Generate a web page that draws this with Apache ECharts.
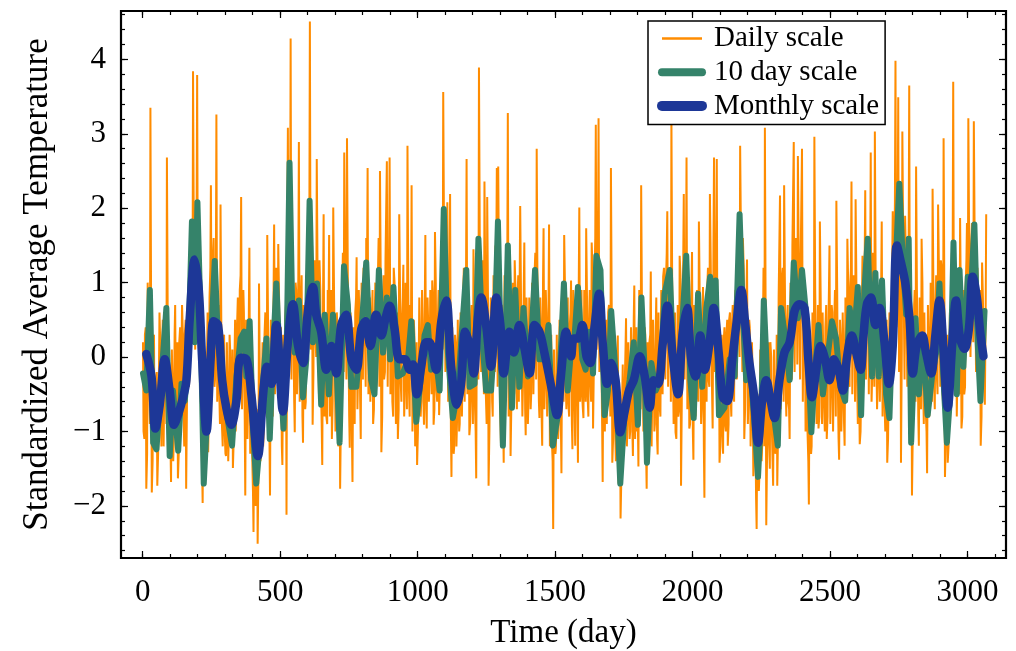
<!DOCTYPE html>
<html>
<head>
<meta charset="utf-8">
<script src="https://cdn.jsdelivr.net/npm/echarts@6/dist/echarts.min.js"></script>
<style>
html,body{margin:0;padding:0;background:#fff;}
#chart{width:1016px;height:651px;}
</style>
</head>
<body>
<div id="chart"></div>
<script>
// ---------- DATA ----------
// Daily series, part A: one value every 5 days starting at day 3 (spikes and dips)
const dailyStartDayA = 3;
const dailyStepDays = 5;
const dailyValuesA = [
  -1.0, 0.3, -1.77, 1.0, -0.3, 3.35, -1.82, 0.2, -1.2, -0.4, -1.73, -0.6, 0.3, -1.2, 0.5, -0.5, 0.6, 2.68, -0.8, -0.2,
  -1.68, -0.3, -1.1, 0.7, -0.9, -1.63, 0.2, -1.0, 0.7, -0.7, 0.3, -1.77, 0.5, -0.4, 1.5, 0.4, 3.84, 0.6, 2.1, 3.79,
  0.5, 1.4, -0.8, -1.96, -0.5, -1.2, -0.2, -1.28, 0.8, 2.31, 0.2, 1.6, -0.3, 3.26, 0.3, -0.4, 2.05, -0.9, 0.2, -1.0,
  -1.33, -0.3, -1.1, 0.1, -0.7, -1.49, -0.2, -1.0, 0.4, -0.5, 0.9, 2.15, -0.3, 0.6, -1.86, 0.3, -0.7, 1.47, -0.4, -1.3,
  -2.35, -0.9, -1.6, -2.51, 0.99, -1.4, -0.6, -1.2, 0.3, -0.5, 1.64, -0.4, -1.86, 0.1, -0.8, 1.78, 0.2, 0.9, 1.52, -0.3,
  0.4, -1.45, -0.6, 0.5, -2.12, 3.08, 1.0, 4.28, 1.6, 0.4, -1.01, 0.9, -0.2, 2.89, 0.3, 1.1, -1.15, 0.2, -0.6, 0.8,
  1.5, 4.51, 0.9, -0.91, 1.2, 0.3, 2.66, 0.5, 1.3, -0.3, -1.45, 1.92, 0.2, -0.8, 0.9, 1.64, -0.4, -1.1, 2.01, 0.3,
  -0.7, 0.4, -1.0, -1.77, 0.5, 1.4, 2.75, 0.8, 2.94, 0.3, -1.22, 0.2, -1.68, -0.4, 0.6, 1.34, -0.3, 0.5, -1.1, 0.6,
  1.2, 0.4, 1.6, 2.54, 0.2, -0.6, 0.5, -0.9, 0.3, -0.5, 1.0, 1.6, 2.5, -1.28, 0.5, -0.3, 1.3, 2.63, 0.4, 2.68,
  0.3, -0.6, 1.2, 0.1, -0.6, -1.1, 1.92, -0.3, 0.5, 1.24, -0.5, 0.6, 2.84, -0.4, 0.7, 2.31, -0.5, 0.3, -0.9, -1.45,
  -0.4, 0.3, -0.6, 0.5, -0.91, 1.64, -0.96, 0.5, -0.3, 0.6, 1.03, -0.91, 1.68, -0.4, 0.4, -0.78, 0.6, 1.5, 3.56, 1.2,
  0.5, 2.08, -0.4, 2.19, -1.61, -0.8, -1.2, 0.2, -0.9, -0.2, -0.9, 0.4, -0.3, 1.2, 0.1, 2.66, 0.2, -1.05, 0.4, -0.5,
  1.45, -0.6, -1.63, 0.8, 3.89, 0.9, -0.2, 1.0, 2.36, -0.5, 2.15, -1.73, -0.3, 0.4, -0.8, 0.6, 1.5, 2.54, 2.56, 0.2,
  -1.15, -0.2, -1.42, 0.6, 1.5, 3.28, 0.4, -1.33, -0.3, 0.7, 1.3, -0.2, 0.8, -0.6, 2.03, 0.1, -0.4, 1.54, -1.05, 0.3,
  -0.6, 0.57, -0.5, 0.9, 0.1, 1.4, 2.8, 0.4, -0.82, 0.5, -1.19, 1.73, -0.4, 0.6, -0.2, 1.78, -0.5, -1.1, -2.31, -0.6,
  -1.2, -0.3, -0.9, 0.3, -1.56, 0.6, 1.64, -0.3, 0.7, -0.6, 0.4, 1.03, -1.24, 0.5, -1.19, 0.7, -1.42, 2.01, 0.3, -0.5,
  -0.82, 0.6, 1.73, -0.5, 0.4, -0.3, 1.54, -0.96, 1.0, 3.12, 0.8, 3.21, 1.2, 0.2, -1.68, -0.4, 0.3, -0.9, 0.6, -0.2,
  2.54, -1.42, -0.3, -0.9, -0.1, 0.29, -1.5, -2.17, -0.8, -1.3, -0.4, 0.52, -0.9, -0.2, -1.0, 0.1, -1.33, 0.96, -0.5, -1.0,
  -1.47, 0.8, 2.31, 0.2, -0.6, 0.3, -1.77, -0.8, 0.2, 1.15, -0.6, 0.1, -0.9, 0.8, -1.31, -0.2, -0.8, 0.5, 1.08, 0.2,
  1.0, 1.96, 0.4, 1.2, 3.26, 0.1, -0.5, -1.01, -0.2, -0.8, 1.36, -1.73, 0.6, 2.19, 0.9, 2.68, 0.3, -0.96, 0.4, 1.41,
  -1.38, -0.3, 0.6, -0.5, 1.82, 0.3, -0.7, 0.94, -1.89, 0.2, 0.9, -0.3, 2.19, 0.5, -0.96, 2.68, 0.8, 2.66, -0.4, -1.42,
  -0.4, -1.0, 0.2, -0.9, 0.3, -1.19, 0.5, -0.5, 0.4, -0.3, 0.7, -0.2, 1.4, 0.6, 2.84, 0.9, 1.6, -1.1, 0.2, 1.31,
  -0.6, 0.4, -0.9, -0.2, -1.3, -0.7, -2.31, -1.1, -1.6, -0.4, -1.2, 1.2, 3.08, -2.26, -0.5, -1.1, 0.2, -0.9, -1.73, -0.6,
  -1.2, -1.73, 0.8, 2.17, 0.5, 1.2, 2.31, -0.3, 0.4, -0.6, -1.1, 0.6, 1.5, 2.89, 0.7, 1.4, 2.7, 0.5, 1.3, 2.8,
  0.2, 1.0, -0.4, -1.0, -1.98, -0.6, -1.2, 0.5, 2.96, 0.3, -0.5, -0.96, 1.82, -0.3, 0.6, -0.6, 0.4, -1.1, 0.2, 1.5,
  -0.5, 0.6, -0.4, 0.9, 2.1, -0.3, -1.38, 0.3, -0.7, 0.2, -1.19, 0.5, 1.59, -0.2, 0.9, 2.36, 0.3, 1.0, 2.12, -0.2,
  0.4, -1.17, -0.5, 1.36, 0.3, 2.24, 0.8, 1.5, 0.4, 2.75, -0.3, 1.1, 3.03, 0.2, -0.4, 0.8, -0.2, 1.82, 0.1, -0.6,
  -0.2, -1.42, -0.5, 0.4, -0.3, 1.96, 0.9, 3.98, 1.4, 3.49, 0.6, -1.42, 3.03, 0.8, 1.9, 0.5, 1.2, 3.65, 0.3, -1.86,
  -0.3, 0.9, 2.56, 0.2, -1.19, 0.4, 1.59, -0.2, 0.6, -0.7, -1.56, 0.3, -0.5, 0.8, 2.26, -0.3, 0.6, -0.2, 2.05, 0.7,
  1.3, -0.4, 2.94, -1.61, -0.6, -1.42, -0.3, 0.6, 1.4, 3.7, 0.5, 1.2, -0.3, 0.6, 1.87, -0.96, 0.4, -0.5, 0.9, 1.8,
  3.21, 0.6, 1.5, 0.9, 3.17, 1.2, 0.3, 0.9, -0.5, -1.19, 1.27, 0.2, -0.64, 1.92
];
// Daily series, part B: the dense band in between, one value every 5 days starting at day 1
const dailyStartDayB = 1;
const dailyValuesB = [
  0.2, -1.1, 0.4, -1.3, 0.5, -0.9, 0.1, -1.4, 0.3, -1.0, -0.2, -1.3, 0.6, -0.8, 0.2, -1.2, 0.3, -0.9, 0.5, -1.1,
  -1.2, 0.1, -1.4, 0.3, -0.9, 0.2, -1.3, 0.4, -1.0, 0.3, -1.2, 0.5, -0.6, 0.9, -0.2, 1.2, 0.3, 1.5, 0.1, 1.9,
  0.2, 1.1, -0.5, -1.5, 0.1, -1.4, -0.3, 0.6, -0.6, 1.2, -0.2, 1.4, -0.4, 1.0, -0.6, 0.7, -0.9, 0.4, -1.2, 0.3,
  -1.3, 0.2, -1.4, 0.3, -1.2, 0.1, -1.1, 0.5, -0.6, 0.8, -0.4, 1.1, -0.7, 0.9, -0.8, 0.5, -1.1, 0.6, -1.3, -0.2,
  -1.8, -0.5, -2.0, -0.7, -1.5, -0.3, -1.3, 0.2, -0.9, 0.6, -0.8, 0.4, -1.1, 0.5, -0.6, 0.9, -0.5, 1.2, -0.1, 0.8,
  -0.4, -1.2, 0.3, -1.0, 0.7, 1.8, -0.1, 1.3, -0.3, 1.2, -0.6, 1.0, -0.5, 1.1, -0.6, 0.8, -0.8, 0.7, -0.7, 1.1,
  0.2, 1.6, 0.1, 1.5, -0.2, 1.3, 0.0, 1.1, -0.5, 0.9, -0.9, 0.8, -0.8, 0.6, -0.9, 0.7, -0.8, 0.9, -0.6, 0.8,
  -1.0, 0.6, -1.2, 0.3, -0.8, 0.9, -0.2, 1.3, -0.3, 1.1, -0.8, 0.6, -1.1, 0.4, -0.9, 0.8, -0.7, 0.9, -0.6, 1.0,
  -0.3, 1.1, -0.4, 1.2, -0.5, 0.8, -0.6, 0.9, -0.7, 1.0, -0.3, 1.2, -0.4, 0.9, -0.8, 1.1, -0.2, 1.3, -0.4, 1.0,
  -0.5, 0.9, -0.8, 1.0, -0.9, 0.6, -0.7, 0.9, -0.6, 0.8, -0.8, 1.0, -0.7, 0.9, -0.8, 0.6, -1.0, 0.5, -1.2, 0.2,
  -1.0, 0.8, -0.8, 0.9, -0.6, 0.7, -0.7, 0.8, -0.6, 0.9, -0.5, 0.8, -0.7, 1.0, -0.6, 0.9, -0.3, 1.2, 0.1, 1.6,
  -0.2, 1.1, -0.6, 0.9, -1.0, 0.4, -1.3, 0.3, -1.2, 0.5, -1.0, 0.6, -0.8, 0.9, -0.6, 1.1, -0.5, 0.8, -0.9, 0.7,
  -0.9, 0.6, -1.0, 1.3, -0.3, 1.6, -0.2, 1.3, -0.5, 1.0, -0.9, 0.7, -1.0, 0.8, -0.6, 1.1, -0.2, 1.4, -0.4, 1.0,
  -0.8, 0.7, -0.9, 1.1, -0.3, 1.2, -0.8, 0.9, -0.6, 1.0, -0.5, 0.9, -0.7, 1.1, -0.6, 0.8, -0.8, 0.9, -0.7, 0.8,
  -0.9, 0.8, -0.7, 1.0, -0.5, 1.2, -0.3, 0.9, -0.6, 0.8, -0.8, 1.0, -0.7, 0.9, -0.8, 0.7, -1.2, 0.3, -1.4, 0.1,
  -1.3, 0.3, -1.1, 0.5, -0.9, 0.7, -0.6, 0.9, -0.7, 0.8, -0.8, 0.6, -0.9, 0.9, -0.7, 0.8, -0.6, 1.0, -0.6, 0.9,
  -0.7, 0.9, -0.6, 0.8, -0.8, 0.9, -0.6, 1.2, -0.1, 1.6, 0.1, 1.5, -0.2, 1.0, -0.9, 0.6, -1.0, 0.5, -0.9, 0.7,
  -0.8, 0.6, -1.1, 0.3, -1.4, -0.2, -1.7, -0.5, -1.6, -0.1, -1.3, 0.1, -1.2, 0.2, -1.1, 0.4, -1.0, 0.5, -1.1, 0.4,
  -0.9, 0.9, -0.7, 0.6, -1.0, 0.4, -1.3, 0.2, -1.4, 0.3, -1.2, 0.5, -1.0, 0.4, -1.1, 0.6, -0.7, 0.9, -0.5, 1.2,
  -0.3, 1.4, -0.4, 1.1, -0.6, 0.8, -0.9, 0.6, -1.1, 0.7, -0.7, 1.1, -0.5, 1.3, -0.3, 1.2, -0.7, 0.8, -0.9, 0.9,
  -1.0, 0.7, -0.8, 0.9, -0.6, 0.8, -0.9, 0.6, -1.2, 0.7, -0.6, 1.2, -0.4, 1.3, -0.5, 1.5, -0.2, 1.4, -0.8, 0.4,
  -1.2, 0.3, -1.3, 0.4, -1.0, 0.5, -0.9, 0.6, -0.8, 0.7, -0.6, 0.9, -0.3, 1.3, 0.0, 1.6, -0.2, 1.2, -0.7, 0.8,
  -0.9, 0.5, -1.2, 0.2, -1.6, -0.3, -1.9, -0.5, -1.8, 0.1, -1.4, 0.4, -1.2, 0.3, -1.3, 0.2, -1.5, 0.0, -1.4, 0.1,
  -1.3, 0.3, -1.0, 0.8, -0.7, 1.1, -0.6, 0.9, -0.8, 0.7, -0.7, 1.0, -0.3, 1.5, -0.2, 1.6, -0.1, 1.4, -0.3, 1.3,
  -0.6, 0.8, -1.0, 0.4, -1.4, 0.2, -1.3, 0.6, -0.8, 0.9, -0.9, 0.7, -0.8, 0.8, -0.9, 0.6, -1.0, 0.7, -0.8, 0.9,
  -0.9, 0.7, -1.0, 0.6, -0.8, 0.9, -1.1, 0.5, -1.0, 0.6, -0.9, 0.8, -0.6, 1.0, -0.4, 1.2, -0.5, 1.1, -0.6, 0.9,
  -0.9, 0.4, -1.0, 0.8, -0.4, 1.3, -0.3, 1.2, -0.5, 1.1, -0.6, 1.4, -0.4, 1.0, -0.7, 0.9, -0.6, 1.0, -0.8, 0.6,
  -1.0, 0.5, -1.1, 0.6, -0.7, 1.2, 0.2, 2.1, 0.4, 1.8, -0.2, 1.5, 0.1, 1.6, -0.3, 1.3, -0.4, 1.5, -0.8, 0.5,
  -1.0, 0.7, -0.6, 0.9, -0.8, 0.8, -0.7, 1.0, -0.9, 0.6, -1.0, 0.7, -0.8, 1.0, -0.6, 0.9, -0.7, 1.1, -0.5, 1.2,
  -0.4, 1.2, -0.6, 0.7, -1.1, 0.3, -1.2, 0.6, -0.6, 1.3, -0.3, 1.1, -0.8, 0.9, -0.5, 0.7, -0.8, 0.9, -0.4, 1.3,
  0.1, 1.5, 0.0, 1.8, 0.2, 1.6, -0.2, 1.2, -0.5, 0.9, -0.8, 0.8, -0.3, 0.6
];

// 10 day scale series (days, values)
const tenDayDays = [
  1, 13, 26, 38, 50, 62, 86, 98, 110, 129, 141, 153, 165, 179, 189, 199, 211, 222, 232, 247, 262, 274, 289, 304, 325, 341, 356, 369, 377, 389,
  401, 413, 425, 438, 450, 462, 474, 486, 500, 512, 524, 534, 544, 553, 568, 583, 595, 607, 619, 634, 649, 662, 677, 692, 706, 716, 732, 746, 759, 777,
  795, 813, 831, 843, 859, 874, 888, 900, 912, 928, 946, 965, 977, 995, 1013, 1025, 1037, 1049, 1061, 1080, 1095, 1110, 1128, 1146, 1161, 1177, 1189, 1207, 1221, 1237,
  1249, 1267, 1280, 1292, 1310, 1328, 1343, 1355, 1370, 1385, 1401, 1415, 1427, 1443, 1459, 1476, 1492, 1510, 1532, 1546, 1558, 1571, 1583, 1599, 1611, 1626, 1638, 1650, 1665, 1680,
  1692, 1704, 1720, 1737, 1753, 1771, 1786, 1801, 1814, 1826, 1834, 1850, 1866, 1883, 1898, 1917, 1931, 1947, 1963, 1977, 1992, 2004, 2020, 2035, 2050, 2064, 2074, 2084, 2096, 2116,
  2135, 2153, 2171, 2183, 2195, 2207, 2223, 2238, 2250, 2259, 2274, 2292, 2310, 2322, 2337, 2353, 2368, 2383, 2398, 2413, 2432, 2444, 2458, 2474, 2490, 2507, 2522, 2538, 2555, 2571,
  2587, 2601, 2613, 2625, 2637, 2653, 2665, 2677, 2689, 2704, 2716, 2728, 2740, 2752, 2765, 2777, 2786, 2795, 2811, 2823, 2837, 2855, 2871, 2886, 2898, 2912, 2925, 2937, 2949, 2961,
  2971, 2985, 3001, 3013, 3025, 3037, 3047, 3062
];
const tenDayValues = [
  -0.22, -0.45, 0.9, -1.15, -1.24, -0.59, 0.66, -1.33, -0.45, -1.26, -0.36, -0.59, -0.03, 1.82, 0.2, 2.08, 0.43, -1.7, -0.96, 0.1, 1.29, 0.2, -0.26, -0.73, -1.19, -0.26, 0.25, 0.34, -0.26, 0.48,
  -0.96, -1.7, -1.19, -0.31, 0.25, -1.1, 0.06, 0.99, -0.2, -0.96, 0.2, 2.61, 0.6, 0.06, 0.76, -0.54, -0.03, 2.1, 0.2, 0.99, -0.64, 0.57, -0.5, 0.57, -0.22, -1.15, 1.22, 0.71, -0.4, -0.4,
  0.34, 1.27, -0.31, -0.5, 1.17, 0.06, 0.8, -0.03, 0.94, -0.26, -0.22, -0.03, 0.48, -0.87, -0.22, 0.29, 0.43, -0.17, 0.15, -0.45, 1.99, 0.06, -0.82, -0.45, 0.34, 1.17, -0.4, -0.36, 1.59, 0.15,
  -0.45, -0.45, 0.3, 1.82, -1.19, 1.5, -0.68, 0.9, -0.4, 0.66, -0.26, 0.34, 1.17, -0.03, -0.03, 0.43, -1.19, -0.78, 0.99, -0.45, 0.1, 0.29, 0.94, -0.03, -0.17, 0.34, -0.22, 1.36, 1.17, -0.78,
  -0.45, 0.62, -0.22, -1.7, -0.73, -0.31, 0.2, -0.91, 0.8, -0.22, -1.42, -0.08, -0.45, -0.31, 0.85, 1.17, -0.17, -0.5, 0.48, 1.36, -0.31, -0.82, 0.85, -0.4, 0.66, 1.08, 0.5, 1.03, -0.78, -0.68,
  -0.03, -0.26, 1.92, 0.57, -0.31, -0.03, -0.78, -1.61, -0.73, 0.76, -0.5, -0.68, -1.19, 0.66, 0.25, -0.31, 1.27, 0.52, 1.17, 0.57, -1.01, -0.26, 0.43, -0.5, -0.03, 0.48, 0.25, -0.4, -0.59, 0.66,
  0.25, 0.94, -0.78, 0.9, 1.59, -0.26, 1.13, -0.26, 1.03, -0.5, -0.82, 0.52, 1.36, 2.33, 1.27, 0.57, 1.59, -1.15, 0.52, -0.5, 0.29, -0.78, -0.26, 0.06, 0.99, -0.26, -1.15, -0.5, 1.54, -0.5,
  1.17, -0.13, 1.08, 0.9, 1.78, 0.2, -0.59, 0.62
];

// Monthly scale series (days, values)
const monthlyDays = [
  13, 32, 46, 62, 80, 98, 114, 129, 147, 159, 171, 189, 204, 216, 232, 247, 258, 274, 289, 304, 322, 341, 356, 377, 395, 419, 438, 452, 468, 486,
  510, 528, 546, 565, 583, 601, 619, 631, 649, 668, 686, 704, 722, 740, 759, 777, 795, 811, 828, 849, 868, 883, 898, 916, 934, 953, 971, 983, 997, 1013,
  1031, 1043, 1067, 1086, 1104, 1122, 1143, 1158, 1173, 1189, 1204, 1219, 1231, 1249, 1267, 1286, 1301, 1313, 1334, 1350, 1370, 1389, 1407, 1425, 1443, 1461, 1486, 1507, 1522, 1540,
  1558, 1568, 1583, 1599, 1614, 1628, 1644, 1660, 1674, 1689, 1704, 1720, 1737, 1753, 1769, 1786, 1808, 1826, 1844, 1858, 1874, 1892, 1908, 1929, 1947, 1963, 1980, 1995, 2011, 2028,
  2044, 2062, 2077, 2095, 2110, 2126, 2143, 2159, 2177, 2192, 2207, 2223, 2238, 2253, 2268, 2284, 2298, 2316, 2334, 2353, 2371, 2389, 2407, 2422, 2434, 2450, 2465, 2482, 2498, 2514,
  2531, 2547, 2562, 2579, 2595, 2611, 2622, 2634, 2649, 2665, 2680, 2698, 2714, 2728, 2743, 2758, 2774, 2789, 2801, 2815, 2835, 2849, 2868, 2883, 2898, 2912, 2928, 2944, 2958, 2973,
  2989, 3005, 3019, 3034, 3046, 3058
];
const monthlyValues = [
  0.04, -0.26, -0.96, -0.64, -0.03, -0.45, -0.91, -0.77, -0.54, -0.31, 0.52, 1.31, 0.9, -0.03, -1.0, -0.03, 0.48, 0.43, -0.31, -0.68, -0.91, -0.59, -0.01, -0.03, -0.5, -1.33, -0.5, -0.13, -0.36, 0.43,
  -0.73, 0.2, 0.71, 0.15, -0.08, 0.62, 0.94, 0.57, 0.34, -0.17, 0.15, -0.22, 0.43, 0.57, -0.03, -0.17, 0.38, 0.48, 0.15, 0.57, 0.29, 0.52, 0.69, 0.38, -0.03, -0.03, -0.17, -0.1, -0.5, -0.13,
  0.2, 0.2, -0.17, 0.48, 0.76, -0.13, -0.64, -0.36, 0.34, 0.15, -0.22, 0.52, 0.8, 0.43, -0.13, 0.8, 0.43, -0.22, 0.34, 0.06, 0.43, 0.11, -0.22, 0.43, 0.34, 0.06, -0.4, -0.78, -0.22, 0.34,
  0.01, 0.25, 0.25, 0.43, 0.01, -0.08, 0.43, 0.85, 0.15, -0.36, -0.08, -0.31, -1.01, -0.73, -0.45, -0.31, 0.01, -0.26, -0.68, -0.31, -0.36, 0.2, 0.69, -0.03, -0.5, 0.29, 0.66, -0.03, -0.26, 0.29,
  -0.17, 0.2, 0.66, 0.06, -0.54, -0.59, -0.08, 0.43, 0.9, 0.43, -0.08, -0.5, -1.15, -0.59, -0.31, -0.59, -0.82, -0.31, 0.06, 0.2, 0.62, 0.71, 0.66, -0.08, -0.54, -0.17, 0.15, -0.03, -0.31, -0.03,
  -0.17, -0.45, 0.01, 0.29, 0.06, -0.17, 0.3, 0.71, 0.8, 0.43, 0.66, 0.2, -0.36, 0.15, 1.5, 1.27, 0.99, 0.52, -0.22, 0.15, 0.29, 0.06, -0.22, 0.29, 0.76, 0.15, -0.68, 0.15, 0.76, 0.25,
  0.11, 0.38, 1.08, 0.8, 0.34, 0.01
];

// Tick values
const xMajorTicks = [0, 500, 1000, 1500, 2000, 2500, 3000];
const yMajorTicks = [-2, -1, 0, 1, 2, 3, 4];
const seriesNames = ['Daily scale', '10 day scale', 'Monthly scale'];
const xTitle = 'Time (day)';
const yTitle = 'Standardized Average Temperature';

// ---------- CHART ----------
const xMinorTicks = [];
for (let v = 0; v <= 3100; v += 100) xMinorTicks.push(v);
const yMinorTicks = [];
for (let k = -13; k <= 23; k++) yMinorTicks.push(Math.round(k * 2) / 10);

const dailyData = [];
for (let i = 0; i < dailyValuesA.length; i++) {
  if (i < dailyValuesB.length) dailyData.push([dailyStartDayB + i * dailyStepDays, dailyValuesB[i]]);
  dailyData.push([dailyStartDayA + i * dailyStepDays, dailyValuesA[i]]);
}
const tenDayData = tenDayDays.map((d, i) => [d, tenDayValues[i]]);
const monthlyData = monthlyDays.map((d, i) => [d, monthlyValues[i]]);

const FONT = '"Liberation Serif", "DejaVu Serif", serif';
const XMIN = -79, XMAX = 3140, YMIN = -2.70, YMAX = 4.65;
const minusFmt = v => (v < 0 ? '\u2212' + Math.abs(v) : String(v));

function mkAxis(range, pos, ticks, len, labels, extra, margin) {
  return Object.assign({
    type: 'value', min: range[0], max: range[1], position: pos,
    axisLine: { show: false, onZero: false }, splitLine: { show: false },
    axisTick: { show: true, inside: true, length: len, customValues: ticks, lineStyle: { color: '#000', width: 1.2 } },
    axisLabel: labels ? { show: true, customValues: ticks, fontSize: 31, fontFamily: FONT, color: '#000', margin: margin || 14, formatter: minusFmt } : { show: false }
  }, extra || {});
}
const XR = [XMIN, XMAX], YR = [YMIN, YMAX];

const chart = echarts.init(document.getElementById('chart'), null, { renderer: 'canvas' });
chart.setOption({
  animation: false,
  backgroundColor: '#fff',
  grid: { left: 121, right: 10, top: 11, bottom: 93, show: true, borderColor: '#000', borderWidth: 2.2,
          backgroundColor: 'transparent', containLabel: false, outerBoundsMode: 'none' },
  xAxis: [
    mkAxis(XR, 'bottom', xMajorTicks, 7, true, {
      name: xTitle, nameLocation: 'middle', nameGap: 59,
      nameTextStyle: { fontSize: 33, fontFamily: FONT, color: '#000' }
    }, 19),
    mkAxis(XR, 'bottom', xMinorTicks, 4, false),
    mkAxis(XR, 'top', xMajorTicks, 7, false),
    mkAxis(XR, 'top', xMinorTicks, 4, false)
  ],
  yAxis: [
    mkAxis(YR, 'left', yMajorTicks, 7, true, {
      name: yTitle, nameLocation: 'middle', nameGap: 66,
      nameTextStyle: { fontSize: 35, fontFamily: FONT, color: '#000' }
    }, 15),
    mkAxis(YR, 'left', yMinorTicks, 4, false),
    mkAxis(YR, 'right', yMajorTicks, 7, false),
    mkAxis(YR, 'right', yMinorTicks, 4, false)
  ],
  legend: {
    orient: 'vertical', left: 648, top: 21,
    padding: [3, 6, 4, 9], itemWidth: 40, itemHeight: 14, itemGap: 4.7,
    borderColor: '#000', borderWidth: 1.5, borderRadius: 0, backgroundColor: '#fff',
    textStyle: { fontSize: 29, fontFamily: FONT, color: '#000', lineHeight: 29, padding: [0, 0, 0, 7] },
    data: [
      { name: seriesNames[0], itemStyle: { opacity: 0 }, lineStyle: { width: 2.5 } },
      { name: seriesNames[1], itemStyle: { opacity: 0 }, lineStyle: { width: 8, cap: 'round' } },
      { name: seriesNames[2], itemStyle: { opacity: 0 }, lineStyle: { width: 10, cap: 'round' } }
    ]
  },
  series: [
    { name: seriesNames[0], type: 'line', data: dailyData, showSymbol: false, symbol: 'none',
      lineStyle: { color: '#ff8c00', width: 2 }, itemStyle: { color: '#ff8c00' }, z: 2, silent: true },
    { name: seriesNames[1], type: 'line', data: tenDayData, showSymbol: false, symbol: 'none',
      lineStyle: { color: '#35836a', width: 6, join: 'round', cap: 'round' }, itemStyle: { color: '#35836a' }, z: 3, silent: true },
    { name: seriesNames[2], type: 'line', data: monthlyData, showSymbol: false, symbol: 'none', smooth: 0.35,
      lineStyle: { color: '#1d3797', width: 8.5, join: 'round', cap: 'round' }, itemStyle: { color: '#1d3797' }, z: 4, silent: true }
  ]
});
</script>
</body>
</html>
